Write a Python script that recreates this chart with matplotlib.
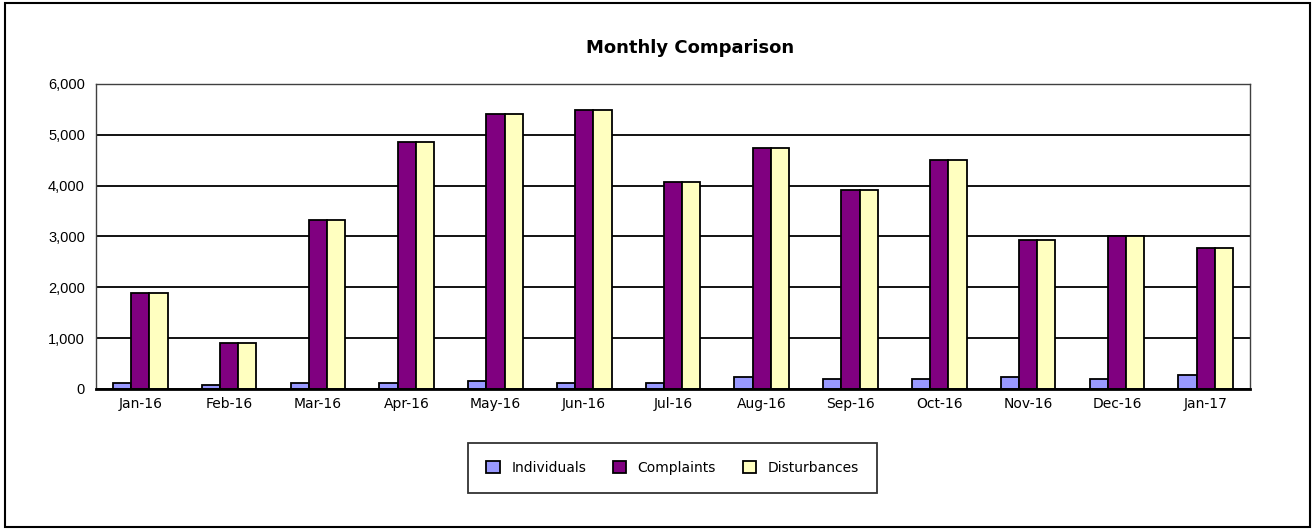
#!/usr/bin/env python3
"""
Monthly comparison grouped bar chart (Individuals / Complaints / Disturbances).
Outputs to out.png.
"""

import matplotlib.pyplot as plt
import numpy as np
from matplotlib.patches import Rectangle
from matplotlib.ticker import FuncFormatter

months = ['Jan-16', 'Feb-16', 'Mar-16', 'Apr-16', 'May-16', 'Jun-16', 'Jul-16',
          'Aug-16', 'Sep-16', 'Oct-16', 'Nov-16', 'Dec-16', 'Jan-17']
individuals = [124, 79, 112, 112, 151, 112, 112, 236, 190, 190, 236, 190, 275]
complaints = [1882, 899, 3325, 4859, 5410, 5488, 4066, 4741, 3915, 4505, 2931, 3016, 2774]
disturbances = [1882, 899, 3325, 4859, 5410, 5488, 4066, 4741, 3915, 4505, 2931, 3016, 2774]

series_names = ['Individuals', 'Complaints', 'Disturbances']
colors = ['#9999FF', '#800080', '#FFFFC0']

fig = plt.figure(figsize=(13.15, 5.29), dpi=100)
fig.patch.set_facecolor('white')

# Outer chart border
fig.patches.append(Rectangle((0.004, 0.004), 0.992, 0.990, transform=fig.transFigure,
                             fill=False, edgecolor='black', linewidth=1.5, zorder=0))

ax = fig.add_axes([0.073, 0.2647, 0.8776, 0.5766])

x = np.arange(len(months))
w = 0.205
for i, (vals, name, c) in enumerate(zip([individuals, complaints, disturbances], series_names, colors)):
    ax.bar(x + (i - 1) * w, vals, width=w, color=c, edgecolor='black', linewidth=1.3,
           label=name, zorder=3)

ax.set_xlim(-0.5, len(months) - 0.5)
ax.set_ylim(0, 6000)
ax.set_yticks(np.arange(0, 6001, 1000))
ax.yaxis.set_major_formatter(FuncFormatter(lambda v, p: f'{int(v):,}'))
ax.set_xticks(x)
ax.set_xticklabels(months)
ax.tick_params(axis='x', length=0, labelsize=10, pad=6)
ax.tick_params(axis='y', length=0, labelsize=10.5, pad=8)
for lab in ax.get_yticklabels():
    lab.set_family('Liberation Sans')

ax.grid(axis='y', color='black', linewidth=1.3, zorder=1)
for side in ['left', 'top', 'right']:
    ax.spines[side].set_color('#404040')
    ax.spines[side].set_linewidth(1.0)
ax.spines['bottom'].set_color('black')
ax.spines['bottom'].set_linewidth(2.0)
ax.spines['bottom'].set_zorder(4)

fig.text(0.525, 0.909, 'Monthly Comparison', ha='center', va='center',
         fontsize=13, fontweight='bold')

leg = fig.legend(loc='center', bbox_to_anchor=(0.5115, 0.1153), ncol=3, frameon=True,
                 fancybox=False, edgecolor='black', fontsize=10, handlelength=0.95,
                 handleheight=0.95, handletextpad=0.85, columnspacing=1.9,
                 borderpad=1.3, borderaxespad=0)
leg.get_frame().set_linewidth(1.3)

plt.savefig('out.png', dpi=100, facecolor='white')
plt.close()
